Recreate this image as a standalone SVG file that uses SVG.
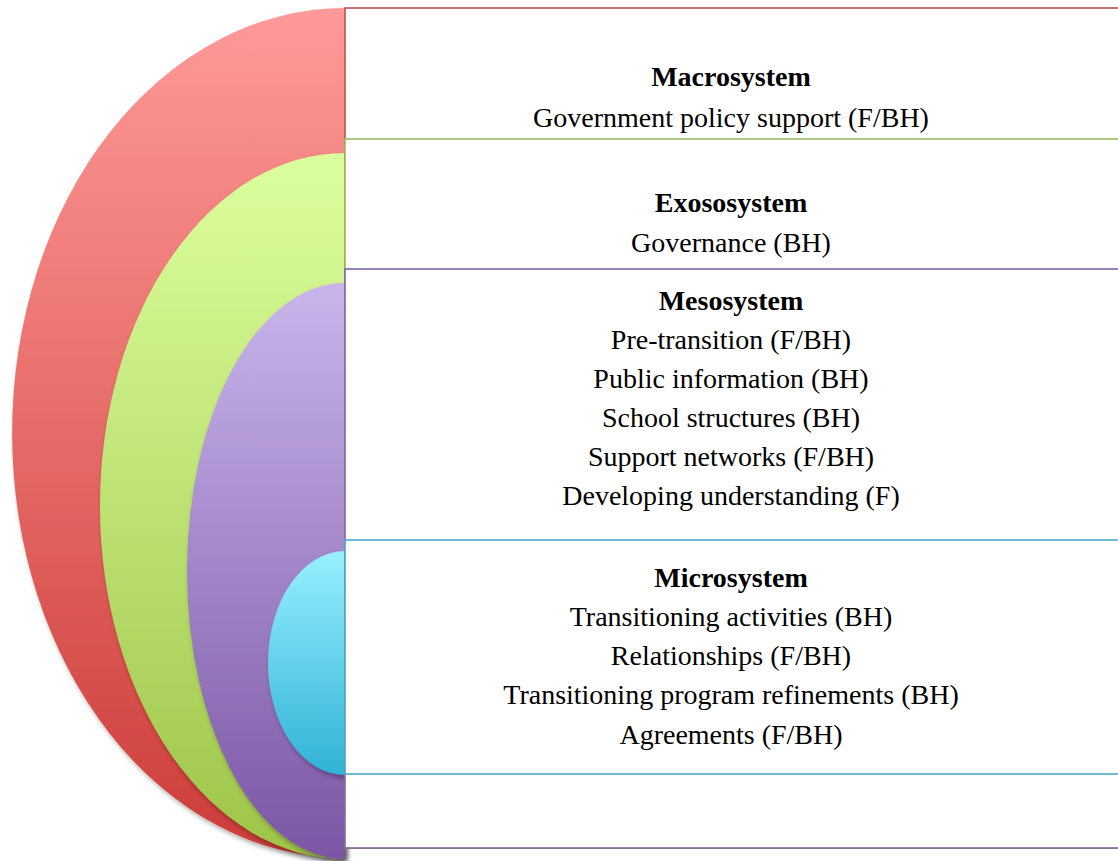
<svg xmlns="http://www.w3.org/2000/svg" width="1118" height="861" viewBox="0 0 1118 861">
  <defs>
    <linearGradient id="gRed" x1="0" y1="0" x2="0" y2="1">
      <stop offset="0" stop-color="#FF9A98"/>
      <stop offset="1" stop-color="#CC3C38"/>
    </linearGradient>
    <linearGradient id="gGreen" x1="0" y1="0" x2="0" y2="1">
      <stop offset="0" stop-color="#DCFF9E"/>
      <stop offset="1" stop-color="#9EC448"/>
    </linearGradient>
    <linearGradient id="gPurple" x1="0" y1="0" x2="0" y2="1">
      <stop offset="0" stop-color="#C9B5EC"/>
      <stop offset="1" stop-color="#7A56A4"/>
    </linearGradient>
    <linearGradient id="gCyan" x1="0" y1="0" x2="0" y2="1">
      <stop offset="0" stop-color="#98F0FF"/>
      <stop offset="1" stop-color="#30B2D6"/>
    </linearGradient>
    <filter id="shadow" x="-10%" y="-10%" width="130%" height="130%">
      <feDropShadow dx="2" dy="3" stdDeviation="2.5" flood-color="#000" flood-opacity="0.35"/>
    </filter>
  </defs>
  <style>
    .box { fill: #FFFFFF; stroke-width: 1.6; }
    .t { font-family: "Liberation Serif", "Times New Roman", serif; font-size: 28px; fill: #000; text-anchor: middle; }
    .h { font-weight: bold; }
  </style>
  <rect width="1118" height="861" fill="#FFFFFF"/>

  <g id="arcs">
    <path id="arc-macro" d="M345,8 A333,425 0 0 0 345,858 Z" fill="url(#gRed)" filter="url(#shadow)"/>
    <path id="arc-exo" d="M345,153 A245,353 0 0 0 345,859 Z" fill="url(#gGreen)" filter="url(#shadow)"/>
    <path id="arc-meso" d="M345,283 A158,288 0 0 0 345,859 Z" fill="url(#gPurple)" filter="url(#shadow)"/>
    <path id="arc-micro" d="M345,551 A77,112 0 0 0 345,775 Z" fill="url(#gCyan)" filter="url(#shadow)"/>
  </g>

  <g id="macrosystem">
    <rect class="box" x="345" y="8" width="800" height="840" stroke="#C0504D"/>
    <text class="t h" x="731" y="86">Macrosystem</text>
    <text class="t" x="731" y="127">Government policy support (F/BH)</text>
  </g>
  <g id="exososystem">
    <rect class="box" x="345" y="139" width="800" height="709" stroke="#9BBB59"/>
    <text class="t h" x="731" y="212">Exososystem</text>
    <text class="t" x="731" y="252">Governance (BH)</text>
  </g>
  <g id="mesosystem">
    <rect class="box" x="345" y="269" width="800" height="579" stroke="#8064A2"/>
    <text class="t h" x="731" y="310">Mesosystem</text>
    <text class="t" x="731" y="349">Pre-transition (F/BH)</text>
    <text class="t" x="731" y="388">Public information (BH)</text>
    <text class="t" x="731" y="427">School structures (BH)</text>
    <text class="t" x="731" y="466">Support networks (F/BH)</text>
    <text class="t" x="731" y="505">Developing understanding (F)</text>
  </g>
  <g id="microsystem">
    <rect class="box" x="345" y="540" width="800" height="234" stroke="#4BACC6"/>
    <text class="t h" x="731" y="587">Microsystem</text>
    <text class="t" x="731" y="626">Transitioning activities (BH)</text>
    <text class="t" x="731" y="665">Relationships (F/BH)</text>
    <text class="t" x="731" y="704">Transitioning program refinements (BH)</text>
    <text class="t" x="731" y="744">Agreements (F/BH)</text>
  </g>
</svg>
